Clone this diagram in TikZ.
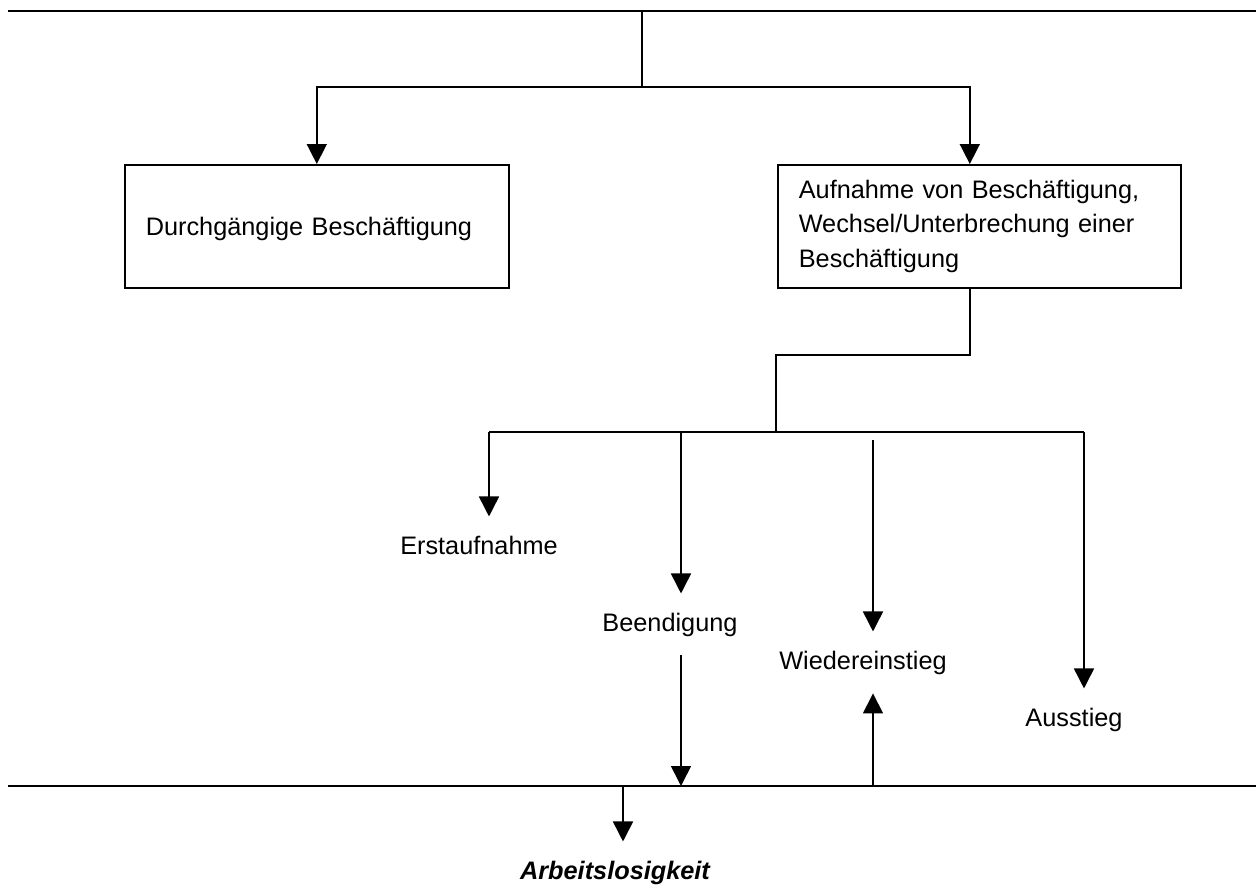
\documentclass[tikz,border=0pt]{standalone}
\usepackage{fontspec}
\setmainfont{Liberation Sans}
\usetikzlibrary{arrows.meta,positioning}

\begin{document}
\begin{tikzpicture}[
  x=1pt,y=-1pt,
  font=\fontsize{25.3pt}{34.5pt}\selectfont,
  box/.style={draw,line width=1.6pt,inner xsep=21pt,inner ysep=0pt,
              align=left,minimum height=123pt},
  lbl/.style={inner xsep=0pt,inner ysep=19pt,anchor=base},
  ln/.style={line width=1.6pt},
  rule/.style={line width=2.2pt},
  arr/.style={line width=1.6pt,-{Triangle[length=20pt,width=20pt]}},
]
  \useasboundingbox (0,0) rectangle (1256,886);

  % frame lines
  \coordinate (topL) at (8,11);
  \coordinate (topR) at (1256,11);
  \coordinate (botL) at (8,786);
  \coordinate (botR) at (1256,786);

  % boxes
  \node[box,text width=342pt,text depth=0pt,anchor=north west] (durch)
    at (124,164) {Durchgängige Beschäftigung};
  \node[box,text width=361pt,anchor=north west] (aufn) at (777,164)
    {Aufnahme von Beschäftigung,\\ Wechsel/Unterbrechung einer\\ Beschäftigung};

  % labels
  \node[lbl] (erst) at (479,554) {Erstaufnahme};
  \node[lbl] (been) at (670,631) {Beendigung};
  \node[lbl] (wied) at (863,669) {Wiedereinstieg};
  \node[lbl] (auss) at (1074,726) {Ausstieg};
  \node[lbl,font=\fontsize{25.3pt}{30pt}\selectfont\bfseries\itshape] (arbl)
    at (615,879) {Arbeitslosigkeit};

  % junctions
  \coordinate (fork) at (642,87);
  \coordinate (bend) at (776,355);
  \coordinate (hub) at (776,432);
  \coordinate (hubE) at (489,432);
  \coordinate (hubB) at (681,432);
  \coordinate (hubA) at (1084,432);
  \coordinate (wtop) at (873,440);
  \coordinate (bArb) at (623,786);
  \coordinate (bBeen) at (681,786);
  \coordinate (bWied) at (873,786);

  \draw[rule] (topL) -- (topR);
  \draw[rule] (botL) -- (botR);
  \draw[ln] (topL -| fork) -- (fork);
  \draw[arr] (fork) -| (durch.north);
  \draw[arr] (fork) -| ([xshift=-9.5pt]aufn.north);
  \draw[ln] ([xshift=-9.5pt]aufn.south) |- (bend) -- (hub);
  \draw[ln] (hubE) -- (hubA);
  \draw[arr] (hubE) -- (hubE |- erst.north);
  \draw[arr] (hubB) -- (hubB |- been.north);
  \draw[arr] (wtop) -- (wtop |- wied.north);
  \draw[arr] (hubA) -- (hubA |- auss.north);
  \draw[arr] (hubB |- been.south) -- (bBeen);
  \draw[arr] (bWied) -- (bWied |- wied.south);
  \draw[arr] (bArb) -- (bArb |- arbl.north);
\end{tikzpicture}
\end{document}
